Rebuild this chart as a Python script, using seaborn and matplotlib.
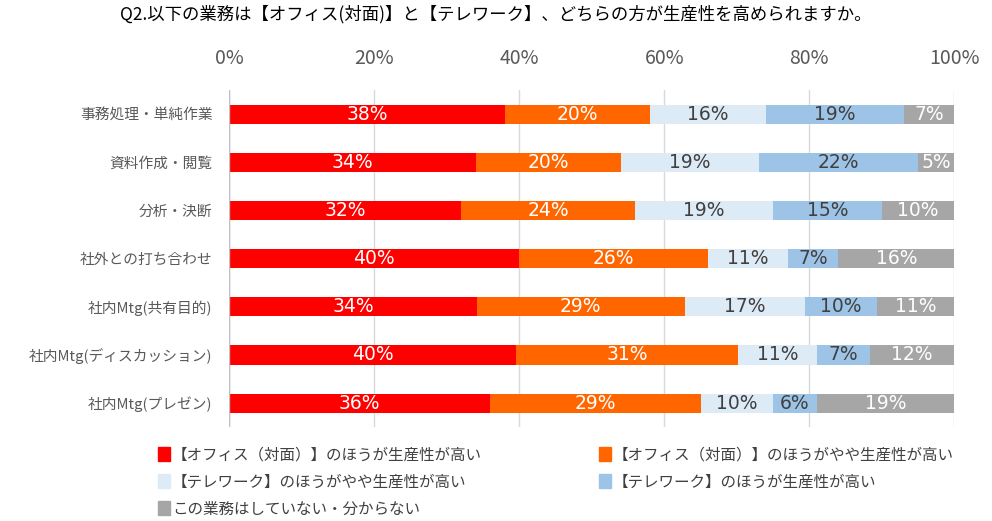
import numpy as np
import pandas as pd
import matplotlib
matplotlib.use('Agg')
import matplotlib.pyplot as plt
from matplotlib.patches import Patch
import seaborn as sns

# data
categories = ['事務処理・単純作業', '資料作成・閲覧', '分析・決断', '社外との打ち合わせ',
              '社内Mtg(共有目的)', '社内Mtg(ディスカッション)', '社内Mtg(プレゼン)']
office_high = [38, 34, 32, 40, 34.2, 39.6, 36]
office_some = [20, 20, 24, 26, 28.6, 30.6, 29]
tele_some = [16, 19, 19, 11, 16.6, 10.9, 10]
tele_high = [19, 22, 15, 7, 10.0, 7.3, 6]
no_answer = [7, 5, 10, 16, 10.6, 11.6, 19]
series_names = ['【オフィス（対面）】のほうが生産性が高い',
                '【オフィス（対面）】のほうがやや生産性が高い',
                '【テレワーク】のほうがやや生産性が高い',
                '【テレワーク】のほうが生産性が高い',
                'この業務はしていない・分からない']
ticks = [0, 20, 40, 60, 80, 100]

colors = ['#FF0000', '#FF6600', '#DDEBF7', '#9DC3E6', '#A6A6A6']
text_colors = ['white', 'white', '#404040', '#404040', 'white']

sns.set_style('white')
plt.rcParams['font.family'] = ['Noto Sans CJK JP', 'DejaVu Sans']

df = pd.DataFrame({'cat': categories})
series = [office_high, office_some, tele_some, tele_high, no_answer]
vals = np.array(series, dtype=float)
cum = np.cumsum(vals, axis=0)

fig = plt.figure(figsize=(9.92, 5.21), dpi=100)
ax = fig.add_axes([0.231, 0.180, 0.731, 0.647])

# stacked bars: draw cumulative totals from the back
for k in range(len(series) - 1, -1, -1):
    df['v'] = cum[k]
    sns.barplot(data=df, x='v', y='cat', color=colors[k], saturation=1,
                width=0.4, orient='h', ax=ax, zorder=3, linewidth=0)

# segment labels
for k in range(len(series)):
    for i in range(len(categories)):
        left = cum[k][i] - vals[k][i]
        ax.text(left + vals[k][i] / 2, i, '%d%%' % round(vals[k][i]),
                ha='center', va='center', fontsize=13.5, color=text_colors[k],
                zorder=5, family=['DejaVu Sans'])

ax.set_xlim(0, 100)
ax.set_ylim(6.5, -0.5)
ax.set_xticks(ticks)
ax.set_xticklabels(['%d%%' % t for t in ticks], fontsize=14, color='#595959')
ax.xaxis.tick_top()
ax.tick_params(axis='x', length=0, pad=15)
ax.tick_params(axis='y', length=0, pad=12, labelsize=10.6, labelcolor='#595959')
ax.set_xlabel('')
ax.set_ylabel('')
for x in ticks:
    ax.axvline(x, color='#D9D9D9', lw=1, zorder=0)
ax.axvline(0, color='#BFBFBF', lw=1, zorder=4)
for s in ax.spines.values():
    s.set_visible(False)

fig.suptitle('Q2.以下の業務は【オフィス(対面)】と【テレワーク】、どちらの方が生産性を高められますか。',
             x=0.5, y=0.99, fontsize=12.5, color='#000000')

# legend in row order
handles = [Patch(color=c) for c in colors]
order = [0, 2, 4, 1, 3]
fig.legend([handles[i] for i in order], [series_names[i] for i in order],
           ncol=2, loc='upper left', bbox_to_anchor=(0.145, 0.17),
           frameon=False, fontsize=11.2, handlelength=0.8, handleheight=1.0,
           handletextpad=0.1, columnspacing=7.5, labelspacing=0.65,
           labelcolor='#404040')

fig.savefig('out.png', dpi=100)
